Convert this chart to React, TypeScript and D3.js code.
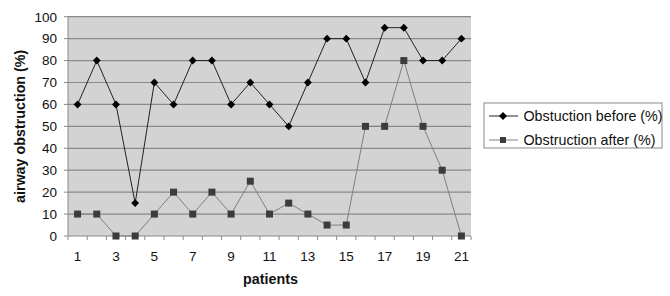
import React from "react";
import * as d3 from "d3";

const patients = Array.from({ length: 21 }, (_, i) => String(i + 1));
const before = [60, 80, 60, 15, 70, 60, 80, 80, 60, 70, 60, 50, 70, 90, 90, 70, 95, 95, 80, 80, 90];
const after = [10, 10, 0, 0, 10, 20, 10, 20, 10, 25, 10, 15, 10, 5, 5, 50, 50, 80, 50, 30, 0];
const yTicks = [0, 10, 20, 30, 40, 50, 60, 70, 80, 90, 100];
const xLabels = ["1", "3", "5", "7", "9", "11", "13", "15", "17", "19", "21"];
const seriesNames = ["Obstuction before (%)", "Obstruction after (%)"];

const W = 670, H = 296;
const L = 68, R = 471, T = 16.7, B = 236;
const FONT = "Arial, 'Liberation Sans', sans-serif";

export default function App() {
  const x = d3.scaleBand().domain(patients).range([L, R]).padding(0);
  const y = d3.scaleLinear().domain([0, 100]).range([B, T]);
  const cx = (p: string) => (x(p) as number) + x.bandwidth() / 2;
  const line = d3.line<number>().x((_, i) => cx(patients[i])).y((d) => y(d));
  const diamond = d3.symbol().type(d3.symbolDiamond2).size(40)();

  return (
    <svg width={W} height={H} style={{ position: "absolute", left: 0, top: 0, background: "#fff" }}>
      <rect x={L} y={T} width={R - L} height={B - T} fill="#d3d3d3" />
      {yTicks.filter((t) => t > 0).map((t) => (
        <line key={t} x1={L} x2={R} y1={y(t)} y2={y(t)} stroke="#8a8a8a" strokeWidth={1.2} />
      ))}
      <line x1={L} x2={L} y1={T} y2={B} stroke="#8a8a8a" strokeWidth={1} />
      <line x1={L} x2={R} y1={B} y2={B} stroke="#8a8a8a" strokeWidth={1.2} />
      {yTicks.map((t) => (
        <g key={t}>
          <line x1={L - 4} x2={L} y1={y(t)} y2={y(t)} stroke="#8a8a8a" />
          <text x={57} y={y(t)} dy="0.36em" textAnchor="end" fontFamily={FONT} fontSize={13.5} fill="#111">{t}</text>
        </g>
      ))}
      {patients.concat(["end"]).map((p, i) => {
        const xx = L + i * x.bandwidth();
        return <line key={i} x1={xx} x2={xx} y1={B} y2={B + 4} stroke="#8a8a8a" />;
      })}
      {xLabels.map((p) => (
        <text key={p} x={cx(p)} y={261} textAnchor="middle" fontFamily={FONT} fontSize={13.5} fill="#111">{p}</text>
      ))}
      <text x={270.5} y={284} textAnchor="middle" fontFamily={FONT} fontSize={14.3} fontWeight="bold" fill="#111">patients</text>
      <text transform={`translate(25,${(T + B) / 2}) rotate(-90)`} textAnchor="middle" fontFamily={FONT} fontSize={14.3} fontWeight="bold" fill="#111">airway obstruction (%)</text>

      <path d={line(after) || ""} fill="none" stroke="#808080" strokeWidth={1} />
      <path d={line(before) || ""} fill="none" stroke="#222" strokeWidth={1} />
      {after.map((v, i) => (
        <rect key={i} x={cx(patients[i]) - 3.5} y={y(v) - 3.5} width={7} height={7} fill="#3c3c3c" />
      ))}
      {before.map((v, i) => (
        <path key={i} d={diamond || ""} transform={`translate(${cx(patients[i])},${y(v)})`} fill="#000" />
      ))}

      <rect x={484} y={103} width={178} height={45} fill="#fff" stroke="#8a8a8a" />
      <line x1={489} x2={518} y1={116} y2={116} stroke="#222" />
      <path d={diamond || ""} transform="translate(503,116)" fill="#000" />
      <text x={523.5} y={115.5} dy="0.36em" fontFamily={FONT} fontSize={14.3} fill="#111">{seriesNames[0]}</text>
      <line x1={489} x2={518} y1={140} y2={140} stroke="#808080" />
      <rect x={500} y={137} width={6} height={6} fill="#3c3c3c" />
      <text x={523.5} y={139.5} dy="0.36em" fontFamily={FONT} fontSize={14.3} fill="#111">{seriesNames[1]}</text>
    </svg>
  );
}
